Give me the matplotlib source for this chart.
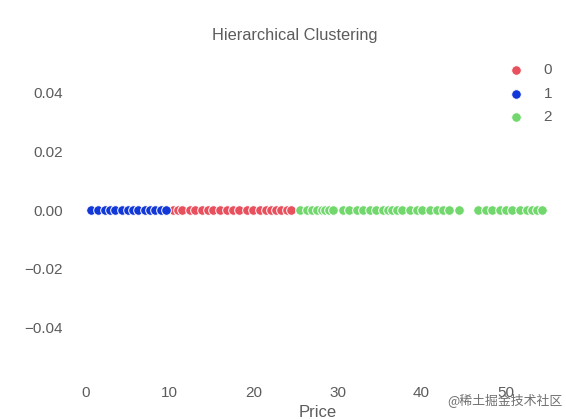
import matplotlib
matplotlib.use("Agg")
import matplotlib.pyplot as plt

# Cluster 1 (blue) prices
price_c1 = [0.68, 1.4, 2.3, 2.9, 3.5, 4.3, 5.0, 5.6, 6.2, 7.0, 7.6, 8.2, 9.0, 9.6]
# Cluster 0 (red) prices
price_c0 = [10.4, 11.0, 11.5, 12.4, 13.0, 13.8, 14.5, 15.1, 16.0, 16.8, 17.5,
            18.3, 19.2, 19.9, 20.7, 21.5, 22.1, 22.7, 23.3, 24.0, 24.5]
# Cluster 2 (green) prices
price_c2 = [25.5, 26.3, 26.9, 27.5, 28.1, 28.5, 29.0, 29.4, 30.6, 31.4, 32.3,
            32.99, 33.8, 34.6, 35.4, 35.96, 36.5, 37.1, 37.7, 38.6, 39.4, 40.1,
            40.95, 41.8, 42.5, 43.3, 44.5, 46.7, 47.7, 48.4, 49.3, 50.1, 50.8,
            51.7, 52.5, 53.2, 53.8, 54.4]

labels = ["0", "1", "2"]
colors = ["#e8505e", "#1238d8", "#72d86e"]
series = [price_c0, price_c1, price_c2]

text_color = "#5c5c5c"
plt.rcParams['font.family'] = ['Liberation Sans', 'DejaVu Sans']

fig = plt.figure(figsize=(5.66, 4.19), dpi=100)
ax = fig.add_axes([69/566, 1 - 378/419, (566-69)/566, (378-48)/419])

for lab, col, xs in zip(labels, colors, series):
    ax.scatter(xs, [0]*len(xs), s=48, c=col, edgecolors="white", linewidths=0.7,
               label=lab, zorder=3)

ax.set_xlim(-2.0, 57.2)
ax.set_ylim(-0.057, 0.055)
ax.set_xticks([0, 10, 20, 30, 40, 50])
ax.set_yticks([-0.04, -0.02, 0.0, 0.02, 0.04])
ax.set_yticklabels(["\u22120.04", "\u22120.02", "0.00", "0.02", "0.04"])
for s in ax.spines.values():
    s.set_visible(False)
ax.tick_params(length=0, labelsize=11, labelcolor=text_color)
ax.tick_params(axis="x", pad=6)
ax.tick_params(axis="y", pad=4.5)
ax.set_xlabel("Price", fontsize=12, color=text_color, labelpad=3)
ax.set_title("Hierarchical Clustering", fontsize=11.8, color=text_color, pad=5.5,
             x=0.455)

leg = ax.legend(loc="upper right", frameon=False, fontsize=11, labelcolor=text_color,
                handletextpad=0.8, labelspacing=0.62, bbox_to_anchor=(1.0, 0.995))

fig.text(0.993, 1 - 400/419, "@稀土掘金技术社区", ha="right", va="center",
         fontsize=9.3, color="#707070",
         family=["Noto Sans CJK SC", "DejaVu Sans"])

fig.savefig("out.png", dpi=100)
